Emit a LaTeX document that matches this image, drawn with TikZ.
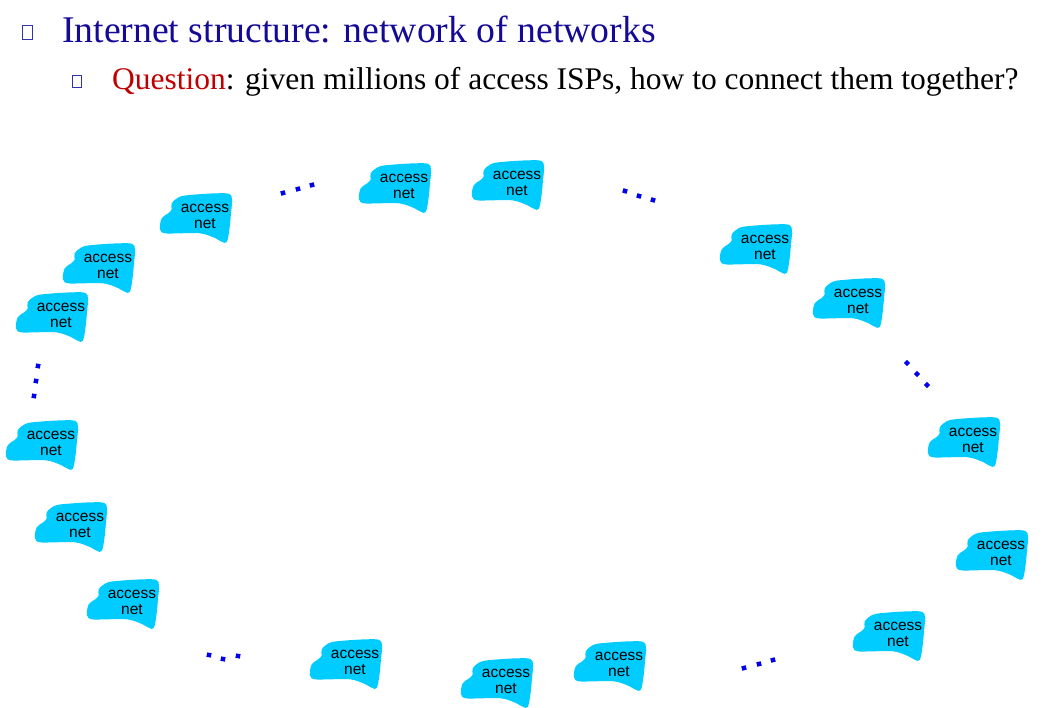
\documentclass[tikz,border=0pt]{standalone}
\usepackage{fontspec}
\setmainfont{Liberation Serif}
\newfontfamily\netfont{Liberation Sans}
\definecolor{netcyan}{RGB}{0,204,255}
\definecolor{titleblue}{RGB}{20,10,150}
\definecolor{qred}{RGB}{192,0,0}
\definecolor{boxblue}{RGB}{50,50,170}
\definecolor{dotblue}{RGB}{0,0,240}
\begin{document}
\begin{tikzpicture}[x=1pt,y=-1pt,
  nettext/.style={inner sep=0pt, align=center, font=\netfont\fontsize{15.5}{16}\selectfont},
  accessnet/.pic={
    \fill[netcyan] plot[smooth cycle, tension=0.6] coordinates {
      (11.7,10.3) (20,3.7) (33.3,1.7) (56.7,0.3) (69.3,1) (72,7) (71,20.3)
      (69.3,37) (66.7,49) (61.7,48.7) (53.3,44.3) (40,40.3) (20,40.3)
      (5,40.3) (0,36.3) (1.7,25.3) (8.3,20.3) (11.7,16.3)};
    \node[nettext] (-t) at (45,23) {access\\net};
  },
  netdot/.style={fill=dotblue, inner sep=0pt, minimum size=4.5pt, rectangle},
  bulletbox/.style={draw=boxblue, line width=1.2pt, inner sep=0pt, rectangle}
]
\useasboundingbox[fill=white] (0,0) rectangle (1044,707);

% heading and sub-bullet
\node[bulletbox, minimum width=10pt, minimum height=14pt] (b1) at (27.5,32.5) {};
\node[anchor=base west, inner sep=0pt, text=titleblue,
      font=\fontsize{37.7}{40}\selectfont] (title) at (62,42)
      {Internet structure: network of networks};
\node[bulletbox, minimum width=9pt, minimum height=12pt] (b2) at (77,81.5) {};
\node[anchor=base west, inner sep=0pt,
      font=\fontsize{31.5}{34}\selectfont] (question) at (112,89)
      {\textcolor{qred}{Question}: given millions of access ISPs, how to connect them together?};

% access networks arranged in a ring
\pic (n1)  at (160,193) {accessnet};
\pic (n2)  at (63,243)  {accessnet};
\pic (n3)  at (16,292)  {accessnet};
\pic (n4)  at (359,163) {accessnet};
\pic (n5)  at (472,160) {accessnet};
\pic (n6)  at (720,224) {accessnet};
\pic (n7)  at (813,278) {accessnet};
\pic (n8)  at (928,417) {accessnet};
\pic (n9)  at (6,420)   {accessnet};
\pic (n10) at (35,502)  {accessnet};
\pic (n11) at (87,579)  {accessnet};
\pic (n12) at (310,639) {accessnet};
\pic (n13) at (461,658) {accessnet};
\pic (n14) at (574,641) {accessnet};
\pic (n15) at (853,611) {accessnet};
\pic (n16) at (956,530) {accessnet};

% ellipsis dots between the groups
\foreach \i/\p/\a in {1/{(283,193)}/16, 2/{(298,189)}/16, 3/{(312,185)}/16,
                      4/{(625,191)}/-18, 5/{(639,196)}/-18, 6/{(653,200)}/-18,
                      7/{(38,366)}/80, 8/{(36,381)}/80, 9/{(34,396)}/80,
                      10/{(907,363)}/-45, 11/{(917,374)}/-45, 12/{(927,385)}/-45,
                      13/{(209,655)}/-10, 14/{(223,659)}/-10, 15/{(238,656)}/-10,
                      16/{(744,668)}/16, 17/{(759,664)}/16, 18/{(773,660)}/16}
  \node[netdot, rotate=\a] (d\i) at \p {};
\end{tikzpicture}
\end{document}
